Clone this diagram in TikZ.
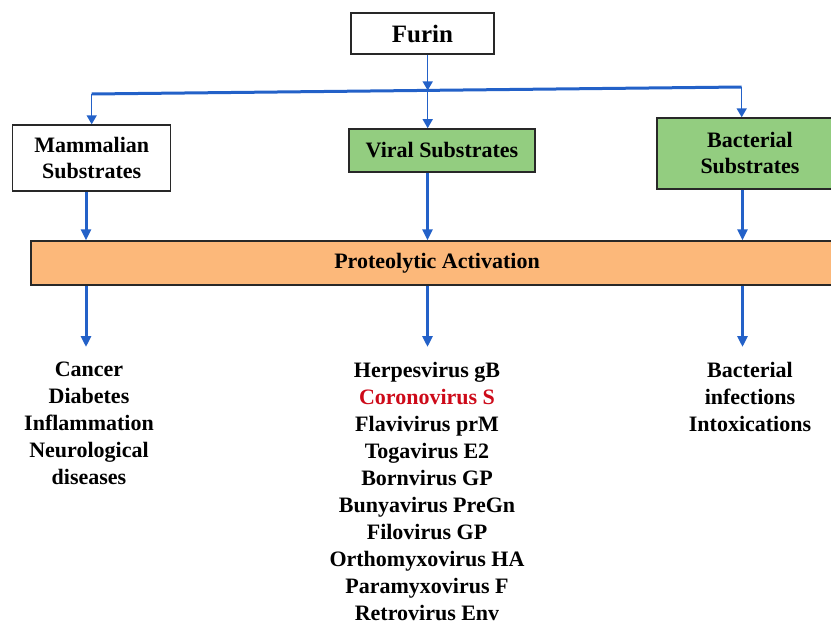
\documentclass[tikz,border=0pt]{standalone}
\usepackage{fontspec}
\setmainfont{Liberation Serif}
\usetikzlibrary{arrows.meta}
\definecolor{boxgreen}{RGB}{147,205,128}
\definecolor{barorange}{RGB}{252,184,122}
\definecolor{arrowblue}{RGB}{35,97,200}
\definecolor{edgegray}{RGB}{40,40,40}
\definecolor{hlred}{RGB}{205,10,25}
\tikzset{
  boxbase/.style={draw=edgegray, line width=1.4pt, inner sep=0pt, align=center,
    font=\fontsize{22}{26}\selectfont\bfseries},
  whitebox/.style={boxbase, fill=white},
  greenbox/.style={boxbase, fill=boxgreen},
  orangebar/.style={boxbase, fill=barorange},
  coltext/.style={inner sep=0pt, align=center, anchor=north,
    font=\fontsize{22}{27}\selectfont\bfseries},
  thinarrow/.style={draw=arrowblue, line width=1.5pt,
    -{Triangle[width=10pt,length=9pt]}},
  thickarrow/.style={draw=arrowblue, line width=3pt,
    -{Triangle[width=10pt,length=11pt]}},
  thickline/.style={draw=arrowblue, line width=3pt}
}
\begin{document}
\begin{tikzpicture}[x=1pt,y=-1pt]
\useasboundingbox (0,0) rectangle (831,621);
\clip (0,0) rectangle (831,621);

% nodes
\node[whitebox, minimum width=143pt, minimum height=41pt, font=\fontsize{25}{28}\selectfont\bfseries]
  (furin) at (422.5,33.5) {Furin};
\node[whitebox, minimum width=158pt, minimum height=66pt] (mam) at (91.7,158) {Mammalian\\Substrates};
\node[greenbox, minimum width=186pt, minimum height=43pt] (vir) at (442,150.4) {Viral Substrates};
\node[greenbox, minimum width=186pt, minimum height=71pt] (bac) at (750,153.5) {Bacterial\\Substrates};
\node[orangebar, minimum width=812pt, minimum height=44pt] (prot) at (437,263) {Proteolytic Activation};

\node[coltext] (txtL) at (89,362) {Cancer\\Diabetes\\Inflammation\\Neurological\\diseases};
\node[coltext] (txtM) at (427,362) {Herpesvirus gB\\\textcolor{hlred}{Coronovirus S}\\Flavivirus prM\\Togavirus E2\\Bornvirus GP\\Bunyavirus PreGn\\Filovirus GP\\Orthomyxovirus HA\\Paramyxovirus F\\Retrovirus Env};
\node[coltext] (txtR) at (750,362) {Bacterial\\infections\\Intoxications};

% junction coordinates on the distribution line
\coordinate (jL) at (91.7,94);
\coordinate (jM) at (427.7,90.4);
\coordinate (jR) at (741.7,87);

% connectors
\draw[thinarrow] (furin.south -| jM) -- (jM);
\draw[thickline] (jL) -- (jR);
\draw[thinarrow] (jL) -- (jL |- mam.north);
\draw[thinarrow] (jM) -- (jM |- vir.north);
\draw[thinarrow] (jR) -- (jR |- bac.north);

\coordinate (cL) at (86,0);
\coordinate (cM) at (427.5,0);
\coordinate (cR) at (742.5,0);
\draw[thickarrow] (mam.south -| cL) -- (prot.north -| cL);
\draw[thickarrow] (vir.south -| cM) -- (prot.north -| cM);
\draw[thickarrow] (bac.south -| cR) -- (prot.north -| cR);

\draw[thickarrow, shorten >=15pt] (prot.south -| cL) -- (txtL.north -| cL);
\draw[thickarrow, shorten >=15pt] (prot.south -| cM) -- (txtM.north -| cM);
\draw[thickarrow, shorten >=15pt] (prot.south -| cR) -- (txtR.north -| cR);
\end{tikzpicture}
\end{document}
